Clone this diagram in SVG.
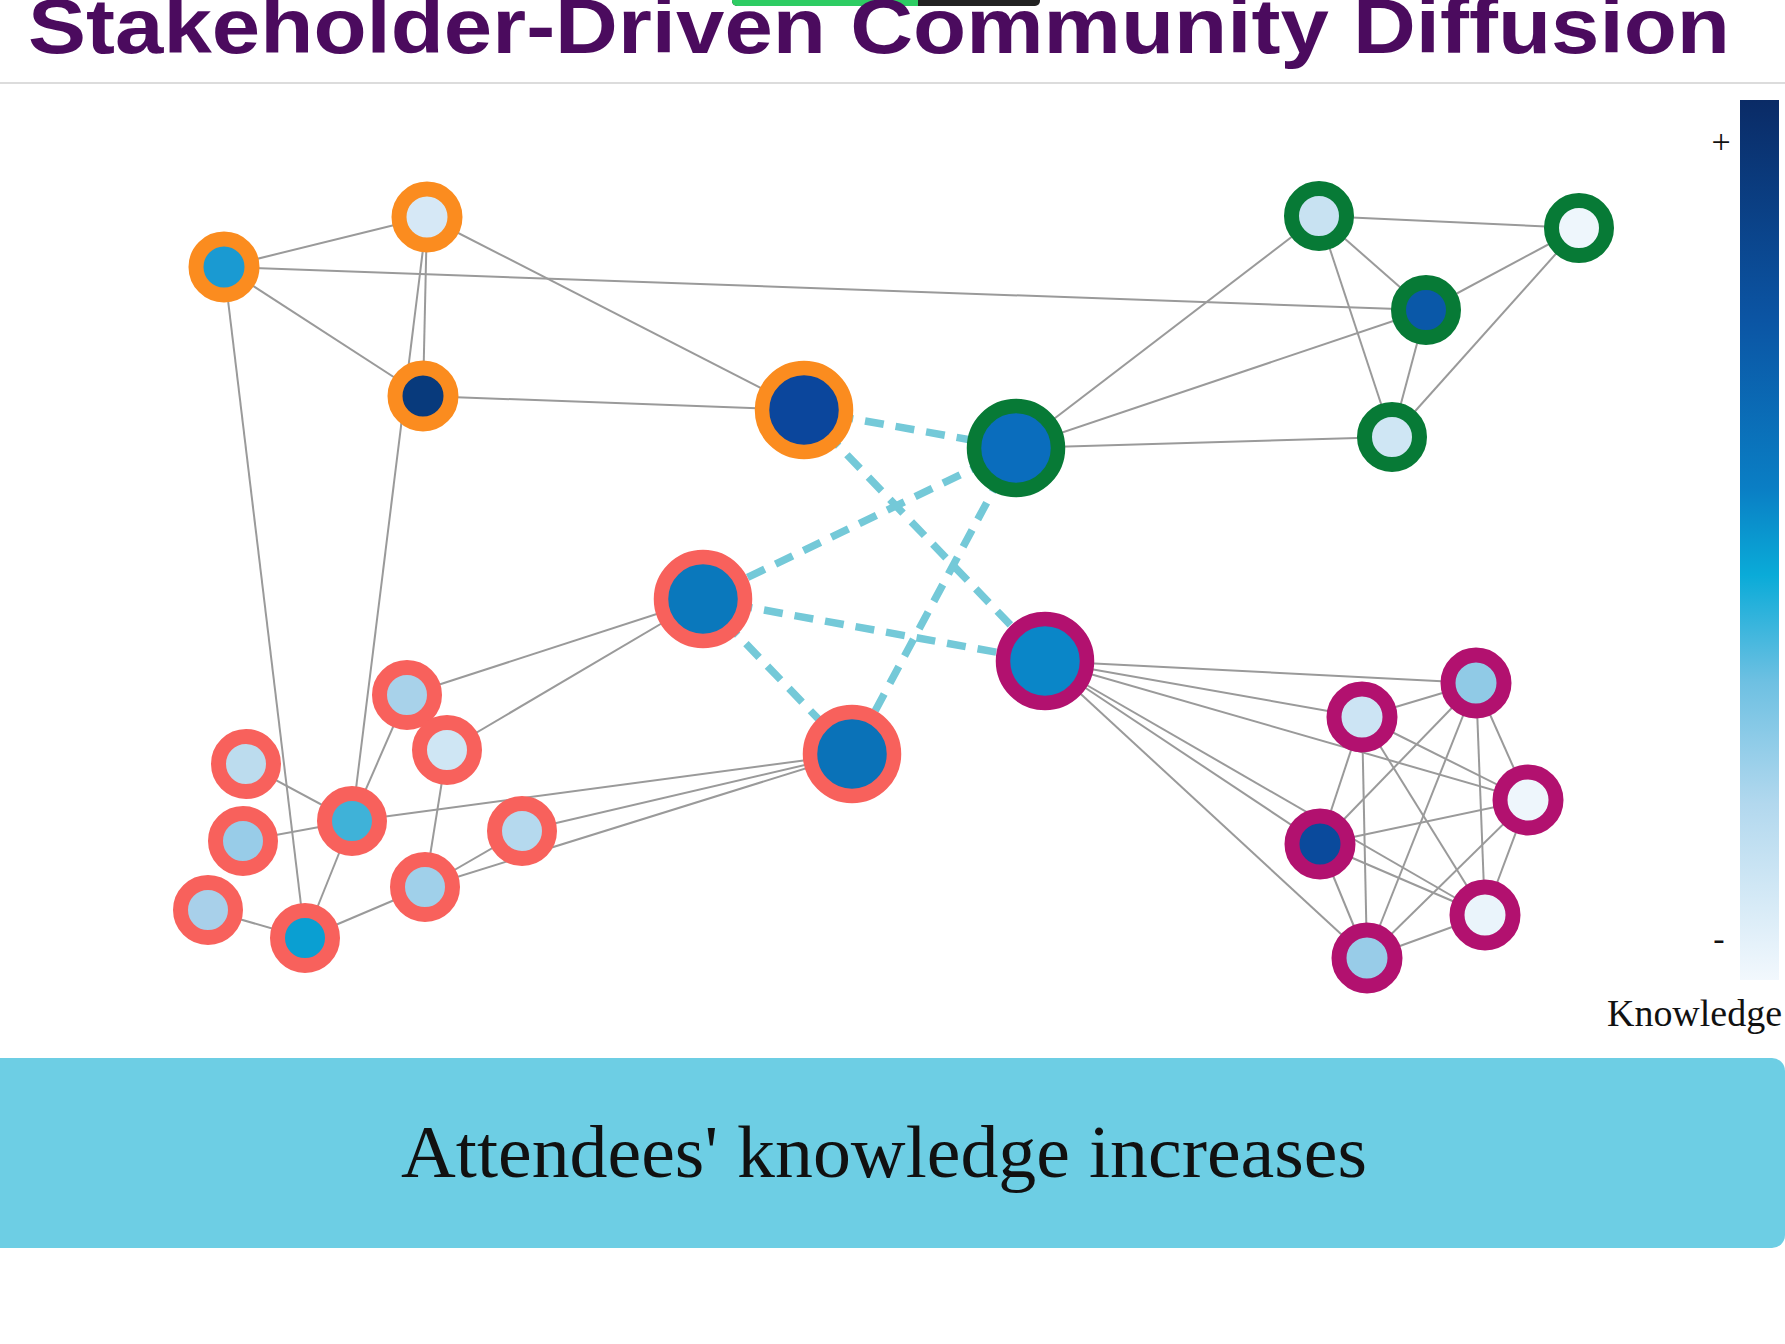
<svg xmlns="http://www.w3.org/2000/svg" width="1785" height="1344" viewBox="0 0 1785 1344">
<defs>
<linearGradient id="kg" x1="0" y1="0" x2="0" y2="1">
<stop offset="0" stop-color="#0a2b66"/>
<stop offset="0.25" stop-color="#0b55a4"/>
<stop offset="0.44" stop-color="#0a7ec4"/>
<stop offset="0.54" stop-color="#0aabd8"/>
<stop offset="0.66" stop-color="#6dc0e2"/>
<stop offset="0.80" stop-color="#b2d8ee"/>
<stop offset="1" stop-color="#f2f8fd"/>
</linearGradient>
<style>
.e{stroke:#9a9a9a;stroke-width:2;fill:none}
.d{stroke:#74c9d8;stroke-width:7.5;fill:none;stroke-dasharray:19 12}
.s{stroke-width:15}
.b{stroke-width:14.5}
.or{stroke:#fb8c1f}
.gr{stroke:#077a36}
.rd{stroke:#f8615c}
.pu{stroke:#b2116f}
.serif{font-family:"Liberation Serif","Times New Roman",serif;fill:#111}
</style>
</defs>
<rect width="1785" height="1344" fill="#ffffff"/>
<g id="topbar">
<rect x="732" y="-8" width="308" height="14" rx="5" fill="#222222"/>
<rect x="732" y="-8" width="186" height="14" rx="5" fill="#2ecc63"/>
<rect x="900" y="-8" width="18" height="14" fill="#2ecc63"/>
</g>
<text x="28" y="53" font-family="Liberation Sans, Arial, sans-serif" font-weight="bold" font-size="78" fill="#4b0b5e" textLength="1702" lengthAdjust="spacingAndGlyphs">Stakeholder-Driven Community Diffusion</text>
<line x1="0" y1="83" x2="1785" y2="83" stroke="#dcdcdc" stroke-width="2"/>

<g id="connectors">
<!-- orange -->
<line class="e" x1="224" y1="267" x2="427" y2="217"/>
<line class="e" x1="224" y1="267" x2="423" y2="396"/>
<line class="e" x1="224" y1="267" x2="1426" y2="310"/>
<line class="e" x1="224" y1="267" x2="305" y2="938"/>
<line class="e" x1="427" y1="217" x2="423" y2="396"/>
<line class="e" x1="427" y1="217" x2="352" y2="821"/>
<line class="e" x1="427" y1="217" x2="804" y2="410"/>
<line class="e" x1="423" y1="396" x2="804" y2="410"/>
<!-- green -->
<line class="e" x1="1319" y1="216" x2="1579" y2="228"/>
<line class="e" x1="1319" y1="216" x2="1426" y2="310"/>
<line class="e" x1="1319" y1="216" x2="1392" y2="437"/>
<line class="e" x1="1579" y1="228" x2="1426" y2="310"/>
<line class="e" x1="1579" y1="228" x2="1392" y2="437"/>
<line class="e" x1="1426" y1="310" x2="1392" y2="437"/>
<line class="e" x1="1016" y1="448" x2="1319" y2="216"/>
<line class="e" x1="1016" y1="448" x2="1426" y2="310"/>
<line class="e" x1="1016" y1="448" x2="1392" y2="437"/>
<!-- red -->
<line class="e" x1="703" y1="599" x2="407" y2="695"/>
<line class="e" x1="703" y1="599" x2="447" y2="750"/>
<line class="e" x1="852" y1="754" x2="352" y2="821"/>
<line class="e" x1="852" y1="754" x2="522" y2="831"/>
<line class="e" x1="852" y1="754" x2="425" y2="887"/>
<line class="e" x1="522" y1="831" x2="425" y2="887"/>
<line class="e" x1="352" y1="821" x2="246" y2="764"/>
<line class="e" x1="352" y1="821" x2="243" y2="841"/>
<line class="e" x1="352" y1="821" x2="407" y2="695"/>
<line class="e" x1="352" y1="821" x2="305" y2="938"/>
<line class="e" x1="447" y1="750" x2="425" y2="887"/>
<line class="e" x1="425" y1="887" x2="305" y2="938"/>
<line class="e" x1="208" y1="910" x2="305" y2="938"/>
<!-- purple -->
<line class="e" x1="1045" y1="661" x2="1362" y2="717"/>
<line class="e" x1="1045" y1="661" x2="1476" y2="683"/>
<line class="e" x1="1045" y1="661" x2="1528" y2="800"/>
<line class="e" x1="1045" y1="661" x2="1320" y2="844"/>
<line class="e" x1="1045" y1="661" x2="1485" y2="915"/>
<line class="e" x1="1045" y1="661" x2="1367" y2="958"/>
<line class="e" x1="1362" y1="717" x2="1476" y2="683"/>
<line class="e" x1="1362" y1="717" x2="1320" y2="844"/>
<line class="e" x1="1362" y1="717" x2="1367" y2="958"/>
<line class="e" x1="1362" y1="717" x2="1485" y2="915"/>
<line class="e" x1="1362" y1="717" x2="1528" y2="800"/>
<line class="e" x1="1476" y1="683" x2="1320" y2="844"/>
<line class="e" x1="1476" y1="683" x2="1367" y2="958"/>
<line class="e" x1="1476" y1="683" x2="1485" y2="915"/>
<line class="e" x1="1476" y1="683" x2="1528" y2="800"/>
<line class="e" x1="1320" y1="844" x2="1528" y2="800"/>
<line class="e" x1="1320" y1="844" x2="1485" y2="915"/>
<line class="e" x1="1320" y1="844" x2="1367" y2="958"/>
<line class="e" x1="1528" y1="800" x2="1367" y2="958"/>
<line class="e" x1="1528" y1="800" x2="1485" y2="915"/>
<line class="e" x1="1485" y1="915" x2="1367" y2="958"/>
<!-- dashed hub links -->
<line class="d" x1="804" y1="410" x2="1016" y2="448"/>
<line class="d" x1="804" y1="410" x2="1045" y2="661"/>
<line class="d" x1="1016" y1="448" x2="703" y2="599"/>
<line class="d" x1="1016" y1="448" x2="852" y2="754"/>
<line class="d" x1="703" y1="599" x2="1045" y2="661"/>
<line class="d" x1="703" y1="599" x2="852" y2="754"/>
</g>

<g id="orange-nodes">
<g id="o1"><circle class="or s" cx="224" cy="267" r="28" fill="#1a9ad2"/></g>
<g id="o2"><circle class="or s" cx="427" cy="217" r="28" fill="#d6e8f6"/></g>
<g id="o3"><circle class="or s" cx="423" cy="396" r="28" fill="#083a7c"/></g>
<g id="o4"><circle class="or b" cx="804" cy="410" r="42" fill="#0b469c"/></g>
</g>
<g id="green-nodes">
<g id="g1"><circle class="gr b" cx="1016" cy="448" r="42" fill="#0a6dbd"/></g>
<g id="g2"><circle class="gr s" cx="1319" cy="216" r="27.5" fill="#c8e2f2"/></g>
<g id="g3"><circle class="gr s" cx="1579" cy="228" r="27.5" fill="#eef6fc"/></g>
<g id="g4"><circle class="gr s" cx="1426" cy="310" r="27.5" fill="#0a58a8"/></g>
<g id="g5"><circle class="gr s" cx="1392" cy="437" r="27.5" fill="#cfe6f4"/></g>
</g>
<g id="red-nodes">
<g id="r-hub1"><circle class="rd b" cx="703" cy="599" r="42" fill="#0a78bc"/></g>
<g id="r-hub2"><circle class="rd b" cx="852" cy="754" r="42" fill="#0a72b8"/></g>
<g id="r1"><circle class="rd s" cx="407" cy="695" r="27.5" fill="#a8d2ea"/></g>
<g id="r2"><circle class="rd s" cx="447" cy="750" r="27.5" fill="#cfe6f4"/></g>
<g id="r3"><circle class="rd s" cx="246" cy="764" r="27.5" fill="#bcdcee"/></g>
<g id="r4"><circle class="rd s" cx="352" cy="821" r="27.5" fill="#3fb2d8"/></g>
<g id="r5"><circle class="rd s" cx="243" cy="841" r="27.5" fill="#98cce8"/></g>
<g id="r6"><circle class="rd s" cx="522" cy="831" r="27.5" fill="#b5d9ee"/></g>
<g id="r7"><circle class="rd s" cx="425" cy="887" r="27.5" fill="#a0d0ea"/></g>
<g id="r8"><circle class="rd s" cx="208" cy="910" r="27.5" fill="#a8d0ea"/></g>
<g id="r9"><circle class="rd s" cx="305" cy="938" r="27.5" fill="#0a9fd2"/></g>
</g>
<g id="purple-nodes">
<g id="p-hub"><circle class="pu b" cx="1045" cy="661" r="42" fill="#0a86c8"/></g>
<g id="p1"><circle class="pu s" cx="1362" cy="717" r="28" fill="#cce4f4"/></g>
<g id="p2"><circle class="pu s" cx="1476" cy="683" r="28" fill="#90cae6"/></g>
<g id="p3"><circle class="pu s" cx="1528" cy="800" r="28" fill="#eef6fc"/></g>
<g id="p4"><circle class="pu s" cx="1320" cy="844" r="28" fill="#0a4a9c"/></g>
<g id="p5"><circle class="pu s" cx="1485" cy="915" r="28" fill="#eaf4fb"/></g>
<g id="p6"><circle class="pu s" cx="1367" cy="958" r="28" fill="#98cce8"/></g>
</g>

<g id="legend">
<rect x="1740" y="100" width="39" height="880" fill="url(#kg)"/>
<text class="serif" x="1721" y="153" font-size="34" text-anchor="middle">+</text>
<text class="serif" x="1719" y="950" font-size="34" text-anchor="middle">-</text>
<text class="serif" x="1607" y="1026" font-size="38" textLength="175" lengthAdjust="spacingAndGlyphs">Knowledge</text>
</g>

<g id="banner">
<rect x="-20" y="1058" width="1805" height="190" rx="13" fill="#6dcee4"/>
<text class="serif" x="401" y="1177" font-size="73" textLength="966" lengthAdjust="spacingAndGlyphs">Attendees' knowledge increases</text>
</g>
</svg>
